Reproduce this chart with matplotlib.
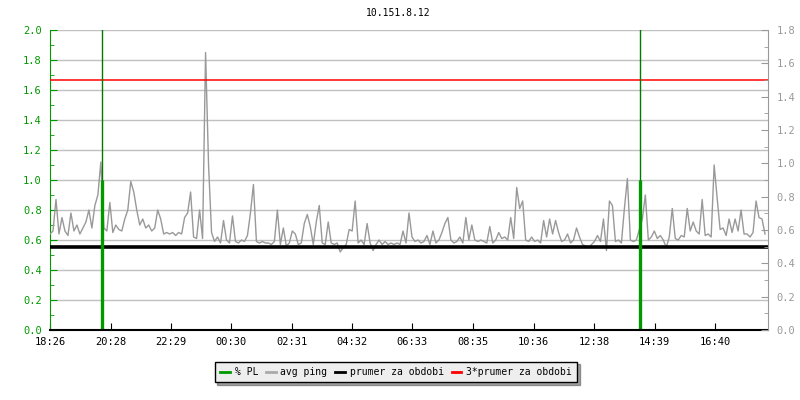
"""Ping / packet loss chart for 10.151.8.12 (24 h window starting 18:26)."""

import matplotlib

matplotlib.use("Agg")
import matplotlib.pyplot as plt
import numpy as np
from matplotlib.ticker import MultipleLocator

plt.rcParams["font.family"] = ["DejaVu Sans Mono"]

TITLE = "10.151.8.12"

# x tick labels (clock time) and their offset in minutes from the start
TICK_LABELS = ["18:26", "20:28", "22:29", "00:30", "02:31", "04:32",
               "06:33", "08:35", "10:36", "12:38", "14:39", "16:40"]
TICK_MINUTES = [0, 122, 243, 364, 485, 606, 727, 849, 970, 1092, 1213, 1334]
SPAN_MINUTES = 1440

# avg ping, one sample every 6 minutes
SAMPLE_MINUTES = 6
PING = [
    0.64, 0.66, 0.87, 0.64, 0.75, 0.66, 0.63, 0.78, 0.66, 0.70,
    0.64, 0.68, 0.72, 0.80, 0.68, 0.83, 0.90, 1.12, 0.68, 0.66,
    0.85, 0.65, 0.70, 0.67, 0.66, 0.74, 0.80, 0.99, 0.92, 0.80,
    0.70, 0.74, 0.68, 0.70, 0.66, 0.68, 0.80, 0.74, 0.64, 0.65,
    0.64, 0.65, 0.63, 0.65, 0.64, 0.75, 0.78, 0.92, 0.62, 0.61,
    0.80, 0.61, 1.85, 1.10, 0.65, 0.59, 0.62, 0.58, 0.73, 0.60,
    0.58, 0.76, 0.59, 0.58, 0.60, 0.59, 0.63, 0.78, 0.97, 0.59,
    0.58, 0.59, 0.58, 0.58, 0.57, 0.59, 0.80, 0.57, 0.68, 0.56,
    0.58, 0.66, 0.64, 0.57, 0.58, 0.71, 0.77, 0.69, 0.57, 0.72,
    0.83, 0.58, 0.57, 0.72, 0.58, 0.57, 0.58, 0.52, 0.55, 0.57,
    0.67, 0.66, 0.86, 0.58, 0.60, 0.57, 0.71, 0.58, 0.53, 0.57,
    0.60, 0.57, 0.59, 0.57, 0.58, 0.57, 0.58, 0.57, 0.66, 0.58,
    0.78, 0.62, 0.59, 0.60, 0.58, 0.59, 0.63, 0.57, 0.66, 0.58,
    0.60, 0.65, 0.71, 0.75, 0.60, 0.58, 0.59, 0.62, 0.58, 0.75,
    0.60, 0.70, 0.60, 0.59, 0.60, 0.59, 0.58, 0.69, 0.58, 0.60,
    0.65, 0.61, 0.62, 0.60, 0.75, 0.61, 0.95, 0.81, 0.86, 0.60,
    0.59, 0.62, 0.59, 0.60, 0.58, 0.73, 0.62, 0.74, 0.64, 0.73,
    0.65, 0.59, 0.60, 0.64, 0.58, 0.60, 0.68, 0.62, 0.57, 0.56,
    0.55, 0.57, 0.59, 0.63, 0.59, 0.74, 0.53, 0.86, 0.83, 0.59,
    0.60, 0.58, 0.81, 1.01, 0.60, 0.59, 0.60, 0.67, 0.74, 0.90,
    0.60, 0.62, 0.66, 0.61, 0.63, 0.60, 0.55, 0.62, 0.81, 0.61,
    0.60, 0.63, 0.62, 0.81, 0.66, 0.72, 0.66, 0.64, 0.87, 0.63,
    0.64, 0.62, 1.10, 0.88, 0.67, 0.68, 0.63, 0.74, 0.65, 0.74,
    0.66, 0.80, 0.64, 0.64, 0.62, 0.65, 0.86, 0.75, 0.74, 0.64,
]

# packet loss events (minutes from start) and their level
PL_MINUTES = [104, 1183]
PL_LEVEL = [1.0, 1.0]

MEAN = 0.556

GREEN = "#009900"
GRAY = "#999999"
GRID = "#c0c0c0"
FS = 7


def main() -> None:
    fig = plt.figure(figsize=(8, 4), dpi=100)
    ax = fig.add_axes([50 / 800, 70 / 400, 718 / 800, 300 / 400])
    ax2 = ax.twinx()

    ping_t = np.arange(len(PING)) * SAMPLE_MINUTES
    ax.plot(ping_t, PING, color=GRAY, lw=1, zorder=3)

    ax.axhline(MEAN, color="black", lw=2.6, zorder=4)
    ax.axhline(3 * MEAN, color="red", lw=1.1, zorder=4)

    ax.vlines(PL_MINUTES, 0, 5, color="#007a00", lw=1, zorder=5)
    ax.vlines(PL_MINUTES, 0, PL_LEVEL, color=GREEN, lw=2.4, zorder=5)

    ax.set_xlim(0, SPAN_MINUTES)
    ax.set_ylim(0, 2.0)
    ax2.set_ylim(0, 1.8)

    ax.yaxis.set_major_locator(MultipleLocator(0.2))
    ax.yaxis.set_minor_locator(MultipleLocator(0.1))
    ax2.yaxis.set_major_locator(MultipleLocator(0.2))
    ax2.yaxis.set_minor_locator(MultipleLocator(0.1))
    ax.yaxis.set_major_formatter(lambda v, p: f"{v:.1f}")
    ax2.yaxis.set_major_formatter(lambda v, p: f"{v:.1f}")

    ax.set_xticks(TICK_MINUTES)
    ax.set_xticklabels(TICK_LABELS)

    ax.grid(axis="y", color=GRID, lw=1, zorder=1)
    ax.set_axisbelow(True)

    for side in ("top", "right"):
        ax.spines[side].set_visible(False)
    ax.spines["left"].set_color(GREEN)
    ax.spines["bottom"].set_color("black")
    ax.spines["bottom"].set_linewidth(1.5)
    ax.spines["bottom"].set_zorder(6)

    for side in ("top", "left", "bottom"):
        ax2.spines[side].set_visible(False)
    ax2.spines["right"].set_color(GRAY)

    ax.tick_params(axis="y", which="major", direction="in", length=5,
                   color=GREEN, labelcolor=GREEN, labelsize=FS + 0.5, pad=6)
    ax.tick_params(axis="y", which="minor", direction="in", length=3, color=GREEN)
    ax.tick_params(axis="x", direction="in", length=5, color="black",
                   labelsize=FS + 0.5, pad=5)
    ax2.tick_params(axis="y", which="major", direction="in", length=5,
                    color=GRAY, labelcolor=GRAY, labelsize=FS + 0.5, pad=6)
    ax2.tick_params(axis="y", which="minor", direction="in", length=3, color=GRAY)

    fig.text(398 / 800, 1 - 13 / 400, TITLE, ha="center", va="center", fontsize=FS)

    handles = [
        plt.Line2D([], [], color=GREEN, lw=2),
        plt.Line2D([], [], color="#aaaaaa", lw=2),
        plt.Line2D([], [], color="black", lw=2),
        plt.Line2D([], [], color="red", lw=2),
    ]
    labels = ["% PL", "avg ping", "prumer za obdobi", "3*prumer za obdobi"]
    leg = fig.legend(handles, labels, loc="center", ncol=4,
                     bbox_to_anchor=(396 / 800, 1 - 372 / 400),
                     fontsize=FS, frameon=True, fancybox=False, shadow=True,
                     edgecolor="black", facecolor="#eeeeee", framealpha=1,
                     handlelength=1.0, handletextpad=0.5, columnspacing=0.8,
                     borderpad=0.55, borderaxespad=0)
    leg.get_frame().set_linewidth(1)

    fig.savefig("out.png", dpi=100)
    plt.close(fig)


if __name__ == "__main__":
    main()
